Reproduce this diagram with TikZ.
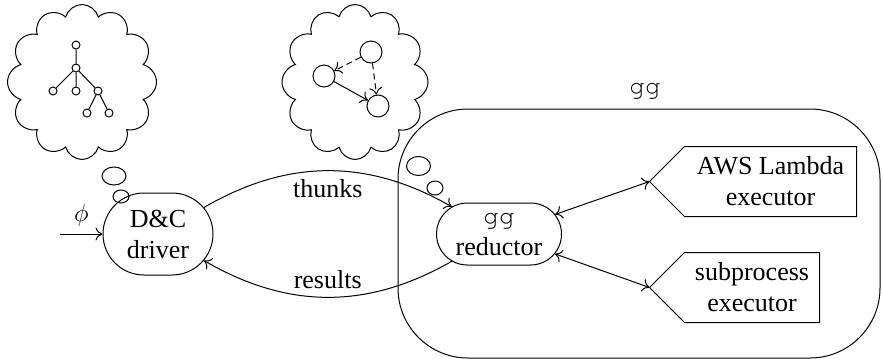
\documentclass[tikz,border=0pt]{standalone}
\usepackage{fontspec}
\setmainfont{Liberation Serif}
\setmonofont{Liberation Mono}
\usetikzlibrary{shapes.misc,shapes.symbols,shapes.geometric,arrows.meta}
\newcommand{\ggfont}{\fontencoding{OT1}\fontfamily{pcr}\selectfont}
\begin{document}
\begin{tikzpicture}[x=1pt,y=-1pt,line width=1pt,
  >={Computer Modern Rightarrow[length=7pt,width=13pt]},
  every node/.style={font=\fontsize{26}{31}\selectfont},
  proc/.style={draw,rounded rectangle,align=center,inner sep=0pt},
  thought/.style={draw,cloud,cloud puffs=12,aspect=1,inner sep=0pt},
  bub/.style={draw,ellipse,inner sep=0pt},
  tnode/.style={draw,circle,minimum size=8pt,inner sep=0pt},
  gnode/.style={draw,circle,minimum size=22pt,inner sep=0pt},
  dep/.style={dash pattern=on 6pt off 4pt},
  exec/.style={inner sep=0pt,align=center,minimum height=69pt}]
\useasboundingbox (0,0) rectangle (883,360);

% big gg box
\node[draw,rounded corners=70pt,minimum width=482pt,minimum height=249pt,inner sep=0pt] (box) at (639,233.5) {};
\node (boxlabel) at (645,91) {\ggfont gg};

% clouds
\node[thought,minimum width=149pt,minimum height=155pt] (c1) at (82,82) {};
\node[thought,minimum width=146pt,minimum height=155pt] (c2) at (355,82) {};

% tree
\node[tnode] (t1) at (76,45) {};
\node[tnode] (t2) at (76,68) {};
\node[tnode] (t3) at (53,91) {};
\node[tnode] (t4) at (76,91) {};
\node[tnode] (t5) at (98,91) {};
\node[tnode] (t6) at (87,113) {};
\node[tnode] (t7) at (109,113) {};
\draw (t1)--(t2) (t2)--(t3) (t2)--(t4) (t2)--(t5) (t5)--(t6) (t5)--(t7);

% graph
\node[gnode] (ga) at (371,52) {};
\node[gnode] (gb) at (324,76) {};
\node[gnode] (gc) at (378,106) {};
\draw[->,dep] (ga) -- (gb);
\draw[->,dep] (ga) -- (gc);
\draw[->] (gb) -- (gc);

% main nodes
\node[proc,minimum width=110pt,minimum height=82pt] (dc) at (158,234) {D\&C\\driver};
\node[proc,minimum width=125pt,minimum height=62pt] (red) at (499,234) {{\ggfont gg}\\reductor};

% bubbles
\node[bub,minimum width=24pt,minimum height=18pt] (b1) at (114,176) {};
\node[bub,minimum width=16pt,minimum height=13pt] (b2) at (121,196.5) {};
\node[bub,minimum width=24pt,minimum height=19pt] (b3) at (418.5,166) {};
\node[bub,minimum width=16pt,minimum height=14pt] (b4) at (435,188) {};

% executors
\node[exec,minimum width=171pt] (aws) at (770.5,181.5) {AWS Lambda\\executor};
\draw (aws.north east) -- (aws.north west) -- ([xshift=-35pt]aws.west) coordinate (awstip) -- (aws.south west) -- (aws.south east) -- cycle;
\node[exec,minimum width=134pt] (sub) at (752,287.5) {subprocess\\executor};
\draw (sub.north east) -- (sub.north west) -- ([xshift=-35pt]sub.west) coordinate (subtip) -- (sub.south west) -- (sub.south east) -- cycle;

% connectors
\coordinate (in) at (60,234);
\draw[->] (in) -- node[above=4pt] (phi) {$\phi$} (dc);
\draw[->] (dc) to[bend left=30] node[below=5pt] (thunks) {thunks} (red);
\draw[->] (red) to[bend left=30] node[above=5pt] (results) {results} (dc);
\draw[<->] (red) -- (awstip);
\draw[<->] (red) -- (subtip);
\end{tikzpicture}
\end{document}
